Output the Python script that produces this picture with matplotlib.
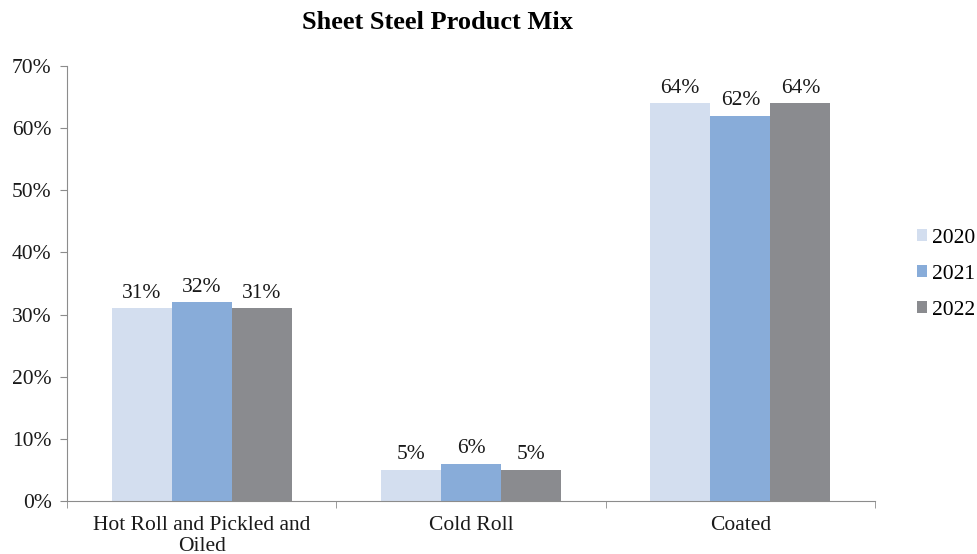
import matplotlib
matplotlib.use('Agg')

import matplotlib.pyplot as plt
import numpy as np
from matplotlib.ticker import FuncFormatter

categories = ['Hot Roll and Pickled and\nOiled', 'Cold Roll', 'Coated']
years = ['2020', '2021', '2022']
values_2020 = [31, 5, 64]
values_2021 = [32, 6, 62]
values_2022 = [31, 5, 64]

colors = ['#D3DEEF', '#88ACD9', '#8A8B8F']
axis_color = '#8C8C8C'
fs = 15.5

plt.rcParams['font.family'] = ['Liberation Serif', 'DejaVu Serif']

fig = plt.figure(figsize=(9.78, 5.54), dpi=100)
ax = fig.add_axes([0.0685, 0.0957, 0.8262, 0.7852])

x = np.arange(len(categories))
width = 0.223
series = [values_2020, values_2021, values_2022]

for i, (vals, year) in enumerate(zip(series, years)):
    pos = x + (i - 1) * width
    bars = ax.bar(pos, vals, width, color=colors[i], label=year, zorder=2)
    for b, v in zip(bars, vals):
        ax.annotate(f'{v}%', (b.get_x() + b.get_width() / 2, v),
                    xytext=(0, 4), textcoords='offset points',
                    ha='center', va='bottom', fontsize=fs, color='#1a1a1a')

ax.set_xlim(-0.5, len(categories) - 0.5)
ax.set_ylim(0, 70)
ax.set_yticks(np.arange(0, 71, 10))
ax.yaxis.set_major_formatter(FuncFormatter(lambda v, p: f'{int(v)}%'))

# category labels centred, ticks on the boundaries
ax.set_xticks(x)
ax.set_xticklabels(categories, fontsize=fs, color='#1a1a1a', linespacing=1.1)
ax.tick_params(axis='x', length=0, pad=11)
ax.set_xticks(np.arange(-0.5, len(categories), 1), minor=True)
ax.tick_params(axis='x', which='minor', length=5, color=axis_color, direction='out')
ax.tick_params(axis='y', length=5, color=axis_color, direction='out', labelsize=fs,
               labelcolor='#1a1a1a', pad=6)

for side in ['top', 'right']:
    ax.spines[side].set_visible(False)
for side in ['left', 'bottom']:
    ax.spines[side].set_color(axis_color)

fig.suptitle('Sheet Steel Product Mix', x=0.447, y=0.98, fontsize=19, fontweight='bold')

fig.legend(loc='center left', bbox_to_anchor=(0.938, 0.505), frameon=False,
           fontsize=fs, handlelength=0.47, handleheight=0.47, handletextpad=0.2,
           labelspacing=0.78, borderaxespad=0, borderpad=0)

plt.savefig('out.png', dpi=100)
plt.close()
